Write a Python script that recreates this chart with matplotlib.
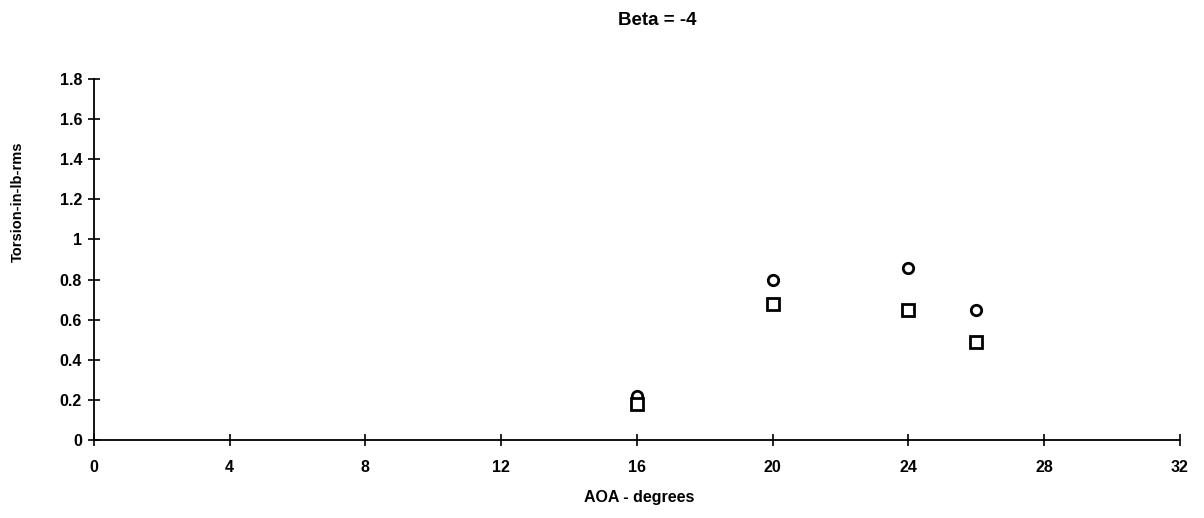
import matplotlib
matplotlib.use("Agg")
import matplotlib.pyplot as plt

plt.rcParams['font.family'] = ['Liberation Sans', 'DejaVu Sans']
plt.rcParams['font.weight'] = 'bold'

aoa = [16, 20, 24, 26]
torsion_circle = [0.22, 0.80, 0.86, 0.65]
torsion_square = [0.18, 0.68, 0.65, 0.49]
x_ticks = [0, 4, 8, 12, 16, 20, 24, 28, 32]
y_ticks = [0, 0.2, 0.4, 0.6, 0.8, 1, 1.2, 1.4, 1.6, 1.8]
y_tick_labels = ['0', '0.2', '0.4', '0.6', '0.8', '1', '1.2', '1.4', '1.6', '1.8']

fig = plt.figure(figsize=(12.04, 5.18), dpi=100)
ax = fig.add_axes([0.078, 0.150, 0.902, 0.698])

ax.plot(aoa, torsion_circle, linestyle='none', marker='o', markersize=7.5,
        markerfacecolor='white', markeredgecolor='black', markeredgewidth=2)
ax.plot(aoa, torsion_square, linestyle='none', marker='s', markersize=8,
        markerfacecolor='white', markeredgecolor='black', markeredgewidth=2)

ax.set_xlim(0, 32)
ax.set_ylim(0, 1.8)
ax.set_xticks(x_ticks)
ax.set_yticks(y_ticks)
ax.set_yticklabels(y_tick_labels)
ax.tick_params(axis='both', direction='inout', length=9, width=1.2,
               labelsize=11.5, colors='black')
ax.tick_params(axis='x', pad=10)
ax.tick_params(axis='y', pad=4)
for lbl in ax.get_xticklabels() + ax.get_yticklabels():
    lbl.set_fontweight('bold')

for side in ('top', 'right'):
    ax.spines[side].set_visible(False)
for side in ('left', 'bottom'):
    ax.spines[side].set_linewidth(1.3)

fig.text(0.531, 0.040, 'AOA - degrees', ha='center', va='center',
         fontsize=11.5, fontweight='bold')
fig.text(0.015, 0.61, 'Torsion-in-lb-rms', ha='center', va='center',
         rotation=90, fontsize=10.5, fontweight='bold')
fig.text(0.546, 0.960, 'Beta = -4', ha='center', va='center',
         fontsize=13.5, fontweight='bold')

fig.savefig('out.png', dpi=100)
